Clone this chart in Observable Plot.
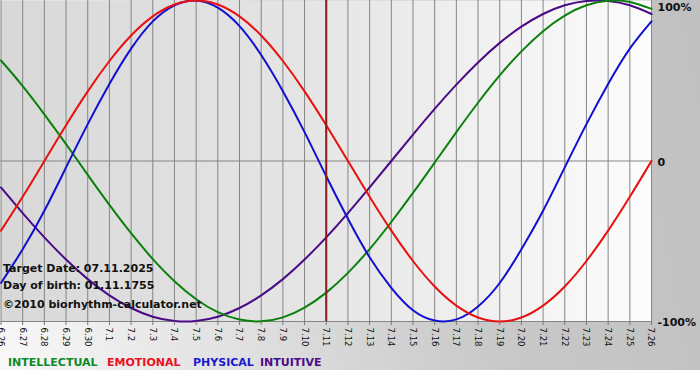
<!DOCTYPE html>
<html><head><meta charset="utf-8">
<script src="https://cdn.jsdelivr.net/npm/d3@7"></script>
<script src="https://cdn.jsdelivr.net/npm/@observablehq/plot@0.6"></script>
<style>
html,body{margin:0;padding:0;background:#fff;}
#wrap{position:relative;width:700px;height:380px;overflow:hidden;background:#fff;}
#bgpanel{position:absolute;left:0;top:0;width:700px;height:370px;background:linear-gradient(80deg,#f8f8f8 0%,#dedede 35%,#c9c9c9 65%,#c0c0c0 100%);}
#chart{position:absolute;left:0;top:0;}
#legend{position:absolute;left:0;top:0;width:700px;height:380px;font:bold 11px "DejaVu Sans";}
#legend span{position:absolute;top:356px;line-height:13px;white-space:nowrap;}
</style>
</head><body>
<div id="wrap"><div id="bgpanel"></div><div id="chart"></div><div id="legend"></div></div>
<script>
// Day labels (month.day)
const days = ["6.26","6.27","6.28","6.29","6.30","7.1","7.2","7.3","7.4","7.5","7.6","7.7","7.8","7.9","7.10","7.11","7.12","7.13","7.14","7.15","7.16","7.17","7.18","7.19","7.20","7.21","7.22","7.23","7.24","7.25","7.26"];
const targetDay = "7.11";
// Series values (fraction of 100%) read per day
const physical = [-0.76,-0.55,-0.31,-0.04,0.23,0.48,0.70,0.87,0.97,1.00,0.955,0.84,0.66,0.435,0.18,-0.095,-0.36,-0.60,-0.79,-0.93,-0.994,-0.987,-0.906,-0.76,-0.55,-0.31,-0.04,0.23,0.48,0.70,0.87];
const emotional = [-0.434,-0.223,0,0.223,0.434,0.623,0.782,0.901,0.975,1.00,0.975,0.901,0.782,0.623,0.434,0.223,0,-0.223,-0.434,-0.623,-0.782,-0.901,-0.975,-1.00,-0.975,-0.901,-0.782,-0.623,-0.434,-0.223,0];
const intellectual = [0.626,0.467,0.291,0.105,-0.086,-0.273,-0.45,-0.611,-0.749,-0.861,-0.942,-0.988,-0.999,-0.974,-0.913,-0.82,-0.697,-0.549,-0.38,-0.199,-0.01,0.18,0.363,0.533,0.683,0.809,0.906,0.97,0.998,0.991,0.948];
const intuitive = [-0.165,-0.325,-0.476,-0.614,-0.736,-0.837,-0.916,-0.97,-0.997,-0.997,-0.97,-0.916,-0.837,-0.736,-0.614,-0.476,-0.325,-0.165,0,0.165,0.325,0.476,0.614,0.736,0.837,0.916,0.97,0.997,0.997,0.97,0.916];
const yTicks = [1, 0, -1];
const yTickLabels = ["100%", "0", "-100%"];
const infoLines = ["Target Date: 07.11.2025", "Day of birth: 01.11.1755", "©2010 biorhythm-calculator.net"];
const legendNames = ["INTELLECTUAL", "EMOTIONAL", "PHYSICAL", "INTUITIVE"];
const colors = {INTELLECTUAL: "#0b800b", EMOTIONAL: "#e81010", PHYSICAL: "#1010d0", INTUITIVE: "#4b0a88"};
const legendColors = {INTELLECTUAL: "#0d8a2a", EMOTIONAL: "#ec1020", PHYSICAL: "#1a1ad0", INTUITIVE: "#4b0a8a"};
const legendLeft = [8, 107, 193, 260];

const idx = days.map((d, i) => i);
const tIdx = days.indexOf(targetDay);
const yLab = new Map(yTicks.map((t, i) => [t, yTickLabels[i]]));

const lineOpts = (c) => ({x: (d, i) => i, y: d => d, stroke: c, strokeWidth: 2, curve: "natural"});
const infoOpts = (dy) => ({frameAnchor: "bottom-left", text: d => d, dx: 2, dy, textAnchor: "start", fontWeight: "bold", fontSize: 11, fill: "#111"});

const chart = Plot.plot({
  width: 700, height: 345,
  marginLeft: 0.5, marginRight: 49, marginTop: 0, marginBottom: 24,
  style: {fontFamily: "DejaVu Sans", background: "transparent", overflow: "visible"},
  x: {domain: [0, days.length - 1]},
  y: {domain: [-1, 1]},
  marks: [
    Plot.frame({fill: "url(#plotbg)", stroke: "none"}),
    Plot.ruleX(idx, {stroke: "#858585", strokeWidth: 1}),
    Plot.ruleY([0], {stroke: "#858585", strokeWidth: 1}),
    Plot.ruleY([-1], {stroke: "#858585", strokeWidth: 1}),
    Plot.line(intuitive, lineOpts(colors.INTUITIVE)),
    Plot.line(intellectual, lineOpts(colors.INTELLECTUAL)),
    Plot.line(physical, lineOpts(colors.PHYSICAL)),
    Plot.line(emotional, lineOpts(colors.EMOTIONAL)),
    Plot.ruleX([tIdx], {stroke: "#861a1a", strokeWidth: 2}),
    Plot.text([infoLines[0]], infoOpts(-50)),
    Plot.text([infoLines[1]], infoOpts(-33)),
    Plot.text([infoLines[2]], infoOpts(-14)),
    Plot.axisX(idx, {tickFormat: i => days[i], tickRotate: 90, tickSize: 4, tickPadding: 2, fontSize: 9.5, fontFamily: "DejaVu Sans Condensed, DejaVu Sans", stroke: "#777", fill: "#111"}),
    Plot.axisY([0, -1], {anchor: "right", tickSize: 0, tickPadding: 6, tickFormat: v => yLab.get(v), fontWeight: "bold", fontSize: 11, fill: "#111", dy: 1}),
    Plot.axisY([1], {anchor: "right", tickSize: 0, tickPadding: 6, tickFormat: v => yLab.get(v), fontWeight: "bold", fontSize: 11, fill: "#111", dy: 6.5})
  ]
});
const ns = "http://www.w3.org/2000/svg";
const defs = document.createElementNS(ns, "defs");
defs.innerHTML = '<linearGradient id="plotbg" x1="0" x2="1" y1="0" y2="0"><stop offset="0" stop-color="#d8d8d8"/><stop offset="0.5" stop-color="#e6e6e6"/><stop offset="1" stop-color="#fcfcfc"/></linearGradient>';
chart.insertBefore(defs, chart.firstChild);
document.getElementById("chart").appendChild(chart);

const leg = document.getElementById("legend");
legendNames.forEach((n, i) => {
  const s = document.createElement("span");
  s.textContent = n;
  s.style.left = legendLeft[i] + "px";
  s.style.color = legendColors[n];
  leg.appendChild(s);
});
</script>
</body></html>
